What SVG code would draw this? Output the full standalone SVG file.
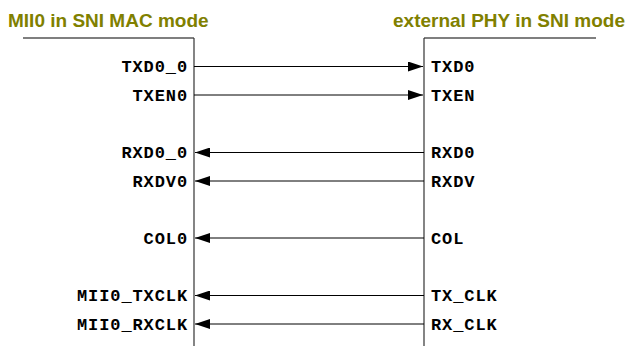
<svg xmlns="http://www.w3.org/2000/svg" width="627" height="346" viewBox="0 0 627 346">
<style>
.title{font-family:"Liberation Sans",Arial,sans-serif;font-weight:bold;font-size:19px;fill:#808000}
.sig{font-family:"Liberation Mono","Courier New",monospace;font-weight:bold;font-size:17px;letter-spacing:0.9px;fill:#000}
.l{text-anchor:end}
.bar{stroke:#555;stroke-width:1.5;fill:none}
.edge{stroke:#333;stroke-width:1.2;fill:none}
.wire{stroke:#000;stroke-width:1;fill:none}
</style>
<defs>
<marker id="ah" markerWidth="15" markerHeight="10" refX="15" refY="5" orient="auto" markerUnits="userSpaceOnUse">
<path d="M0,0 L15,5 L0,10 Z" fill="#000"/>
</marker>
</defs>
<g id="mac">
<text class="title" x="8" y="27">MII0 in SNI MAC mode</text>
<path class="bar" d="M23,38 H194"/>
<path class="edge" d="M194,38 V346"/>
<text class="sig l" x="188" y="72">TXD0_0</text>
<text class="sig l" x="188" y="100.5">TXEN0</text>
<text class="sig l" x="188" y="158">RXD0_0</text>
<text class="sig l" x="188" y="186.5">RXDV0</text>
<text class="sig l" x="188" y="243.5">COL0</text>
<text class="sig l" x="188" y="301">MII0_TXCLK</text>
<text class="sig l" x="188" y="329.5">MII0_RXCLK</text>
</g>
<g id="phy">
<text class="title" x="393" y="27">external PHY in SNI mode</text>
<path class="bar" d="M424,38 H596"/>
<path class="edge" d="M424,38 V346"/>
<text class="sig" x="431" y="72">TXD0</text>
<text class="sig" x="431" y="100.5">TXEN</text>
<text class="sig" x="431" y="158">RXD0</text>
<text class="sig" x="431" y="186.5">RXDV</text>
<text class="sig" x="431" y="243.5">COL</text>
<text class="sig" x="431" y="301">TX_CLK</text>
<text class="sig" x="431" y="329.5">RX_CLK</text>
</g>
<g id="connectors">
<path class="wire" d="M194,66.5 H423" marker-end="url(#ah)"/>
<path class="wire" d="M194,95 H423" marker-end="url(#ah)"/>
<path class="wire" d="M424,152.5 H195" marker-end="url(#ah)"/>
<path class="wire" d="M424,181 H195" marker-end="url(#ah)"/>
<path class="wire" d="M424,238 H195" marker-end="url(#ah)"/>
<path class="wire" d="M424,295.5 H195" marker-end="url(#ah)"/>
<path class="wire" d="M424,324 H195" marker-end="url(#ah)"/>
</g>
</svg>
